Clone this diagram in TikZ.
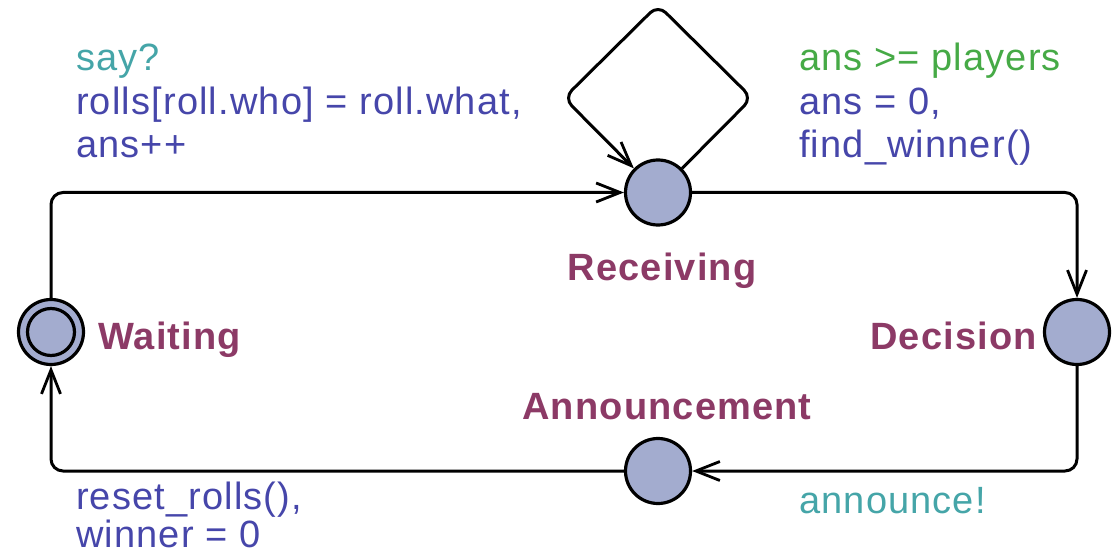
\documentclass[tikz,border=0pt]{standalone}
\usepackage{fontspec}
\setmainfont[LetterSpace=3]{Liberation Sans}
\usetikzlibrary{arrows.meta}

\definecolor{locfill}{HTML}{A3ACCF}
\definecolor{locname}{HTML}{8C3A66}
\definecolor{syncc}{HTML}{45A5A8}
\definecolor{assignc}{HTML}{4646AA}
\definecolor{guardc}{HTML}{46AA46}

\tikzset{
  loc/.style={circle, draw=black, line width=3.2pt, fill=locfill, minimum size=65pt, inner sep=0pt},
  initloc/.style={circle, draw=black, line width=3.2pt, minimum size=47pt, inner sep=0pt},
  edge/.style={draw=black, line width=3pt, rounded corners=12pt,
    -{Straight Barb[length=24pt,width=19pt,line width=2.8pt]}},
  lname/.style={inner sep=0pt, font=\fontsize{38}{39.5}\selectfont\bfseries, text=locname},
  lbl/.style={inner sep=0pt, align=left, font=\fontsize{38}{43.5}\selectfont},
}

\begin{document}
\begin{tikzpicture}[x=1pt,y=-1pt]
  \useasboundingbox (0,0) rectangle (1113,556);

  % locations
  \node[loc] (W) at (51,332) {};
  \node[initloc] (Wi) at (51,332) {};
  \node[loc] (R) at (658,192.5) {};
  \node[loc] (D) at (1077,332) {};
  \node[loc] (A) at (658,471) {};

  % location names
  \node[lname, anchor=base west] (Wn) at (98,349) {Waiting};
  \node[lname, anchor=base] (Rn) at (662,280) {Receiving};
  \node[lname, anchor=base east] (Dn) at (1037,349) {Decision};
  \node[lname, anchor=base] (An) at (667,419) {Announcement};

  % self-loop corners on Receiving
  \coordinate (s1) at (752,98);
  \coordinate (s2) at (658,5);
  \coordinate (s3) at (564,98);

  % transitions
  \draw[edge] (W.north) |- (R.west);
  \draw[edge] (R.east) -| (D.north);
  \draw[edge] (D.south) |- (A.east);
  \draw[edge] (A.west) -| (W.south);
  \draw[edge, rounded corners=11pt] (R.45) -- (s1) -- (s2) -- (s3) -- (R.135);

  % transition labels (base anchor sits on the last line)
  \node[lbl, anchor=base west] (l1) at (76,157.5)
    {\textcolor{syncc}{say?}\\
     \textcolor{assignc}{rolls[roll.who] = roll.what,}\\
     \textcolor{assignc}{ans++}};
  \node[lbl, anchor=base west] (l2) at (799,157.5)
    {\textcolor{guardc}{ans >= players}\\
     \textcolor{assignc}{ans = 0,}\\
     \textcolor{assignc}{find\_winner()}};
  \node[lbl, anchor=base west, text=syncc] (l3) at (799,513) {announce!};
  \node[lbl, anchor=base west, text=assignc,
        font=\fontsize{38}{38.5}\selectfont] (l4) at (76,547.5)
    {reset\_rolls(),\\ winner = 0};
\end{tikzpicture}
\end{document}
